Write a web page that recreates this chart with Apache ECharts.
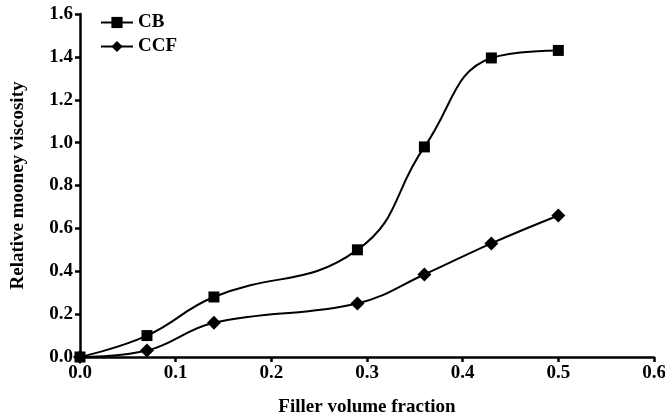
<!DOCTYPE html>
<html>
<head>
<meta charset="utf-8">
<script src="https://cdn.jsdelivr.net/npm/echarts@6/dist/echarts.min.js"></script>
<style>
  html, body { margin: 0; padding: 0; background: #fff; }
  #chart { width: 665px; height: 417px; }
</style>
</head>
<body>
<div id="chart"></div>
<script>
const fraction = [0, 0.07, 0.14, 0.29, 0.36, 0.43, 0.5];
const cbValues = [0, 0.1, 0.28, 0.5, 0.98, 1.395, 1.43];
const ccfValues = [0, 0.03, 0.16, 0.25, 0.385, 0.53, 0.66];

const font = "Liberation Serif";
const pairs = (ys) => fraction.map((x, i) => [x, ys[i]]);

const chart = echarts.init(document.getElementById("chart"));
chart.setOption({
  animation: false,
  grid: { left: 80, right: 11, top: 14, bottom: 60, outerBoundsMode: "none" },
  legend: {
    orient: "vertical",
    left: 95,
    top: 8,
    itemGap: 5,
    itemWidth: 32,
    itemHeight: 14,
    textStyle: { fontFamily: font, fontSize: 19, fontWeight: "bold", color: "#000" },
    data: ["CB", "CCF"],
  },
  xAxis: {
    type: "value",
    min: 0,
    max: 0.6,
    interval: 0.1,
    name: "Filler volume fraction",
    nameLocation: "middle",
    nameGap: 41,
    nameTextStyle: { fontFamily: font, fontSize: 19, fontWeight: "bold", color: "#000" },
    axisLine: { lineStyle: { color: "#000", width: 2.5 } },
    axisTick: { show: true, length: 5, lineStyle: { color: "#000", width: 2.5 } },
    axisLabel: {
      fontFamily: font, fontSize: 19, fontWeight: "bold", color: "#000", margin: 7,
      formatter: (v) => v.toFixed(1),
    },
    splitLine: { show: false },
  },
  yAxis: {
    type: "value",
    min: 0,
    max: 1.6,
    interval: 0.2,
    name: "Relative mooney viscosity",
    nameLocation: "middle",
    nameGap: 52,
    nameTextStyle: { fontFamily: font, fontSize: 19, fontWeight: "bold", color: "#000" },
    axisLine: { show: true, lineStyle: { color: "#000", width: 2.5 } },
    axisTick: { show: true, length: 5, lineStyle: { color: "#000", width: 2.5 } },
    axisLabel: {
      fontFamily: font, fontSize: 19, fontWeight: "bold", color: "#000", margin: 7,
      formatter: (v) => v.toFixed(1),
    },
    splitLine: { show: false },
  },
  series: [
    {
      name: "CB",
      type: "line",
      data: pairs(cbValues),
      smooth: 0.45,
      symbol: "rect",
      symbolSize: 11,
      lineStyle: { color: "#000", width: 2 },
      itemStyle: { color: "#000" },
    },
    {
      name: "CCF",
      type: "line",
      data: pairs(ccfValues),
      smooth: 0.4,
      symbol: "diamond",
      symbolSize: 14,
      lineStyle: { color: "#000", width: 2 },
      itemStyle: { color: "#000" },
    },
  ],
});
</script>
</body>
</html>
